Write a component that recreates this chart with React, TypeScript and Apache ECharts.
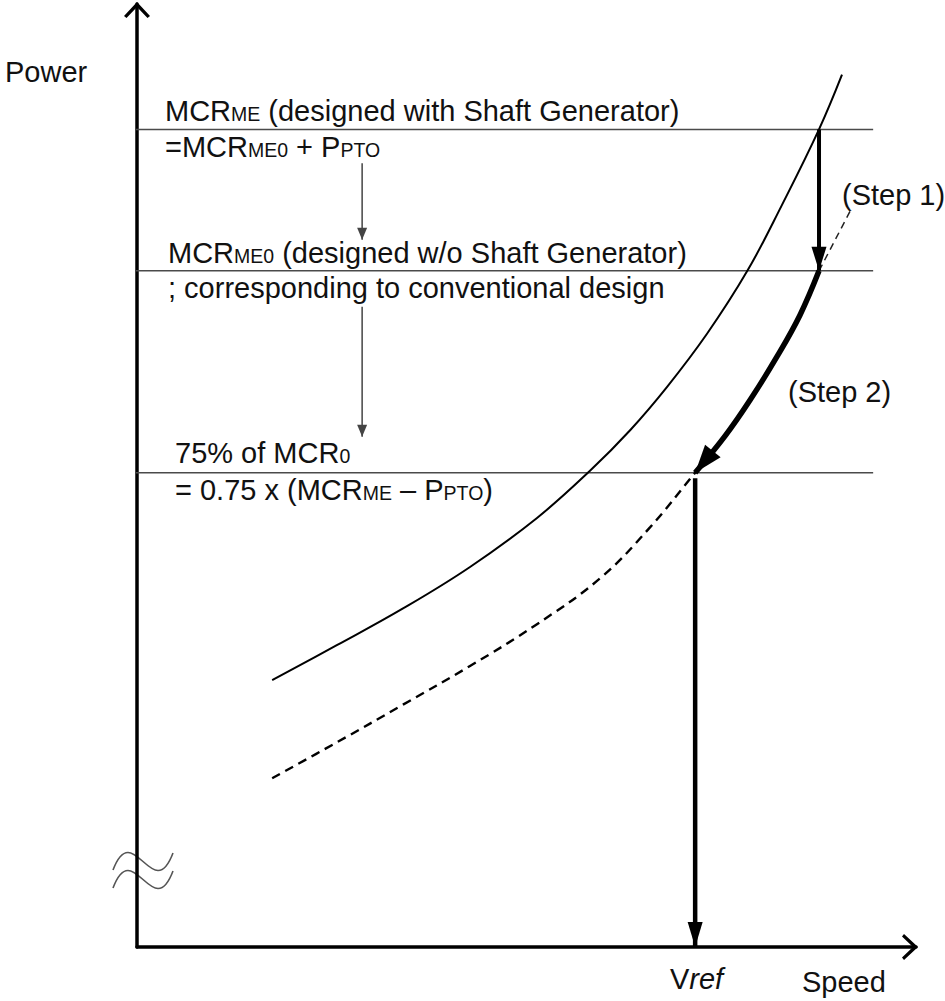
import React, { useEffect, useRef } from 'react';
import * as echarts from 'echarts';

// ---- axis ranges (schematic units) ----
const SPEED_MAX = 20;
const POWER_MAX = 100;

// ---- solid curve: power demand (with shaft generator) ----
const solidSpeed = [3.47, 5.13, 6.83, 8.55, 10.27, 11.63, 12.66, 13.61, 14.63, 15.67, 16.56, 17.51, 18.1];
const solidPower = [28.3, 32.0, 35.9, 40.3, 45.5, 50.5, 54.8, 59.4, 65.0, 71.7, 78.7, 86.7, 92.5];

// ---- dashed curve: power demand (conventional) ----
const dashedSpeed = [3.47, 5.13, 6.83, 8.55, 10.22, 11.89, 13.17, 14.33, 15.1, 15.74, 16.43, 17.02, 17.51];
const dashedPower = [17.9, 21.7, 25.7, 29.8, 34.1, 39.1, 44.5, 50.3, 54.2, 58.0, 62.6, 67.0, 71.7];

// ---- horizontal power levels ----
const levelPower = [86.7, 71.7, 50.3]; // MCR_ME, MCR_ME0, 75% of MCR0
const levelSpeedSpan = [-0.33, 18.9];

// ---- leader from (Step 1) label to curve ----
const leaderSpeed = [17.51, 18.33];
const leaderPower = [71.7, 78.2];

// ---- Step 1 arrow ----
const step1Speed = [17.51, 17.51];
const step1Power = [86.7, 71.7];

// ---- Vref arrow ----
const vrefSpeed = [14.33, 14.33];
const vrefPower = [49.7, 0];

// ---- thin flow arrows between text blocks ----
const flowSpeed = [5.78, 5.78];
const flow1Power = [83.1, 75.0];
const flow2Power = [67.9, 54.1];

const zip = (xs: number[], ys: number[]) => xs.map((x, i) => [x, ys[i]]);

const FONT = '"Liberation Sans", Arial, Helvetica, sans-serif';
const TXT = '#111';
const CHEVRON = 'path://M0,14 L13,0 L26,14 L23.5,16 L13,5 L2.5,16 Z';

const rich = {
  m: { fontSize: 29, fontFamily: FONT, fill: TXT, color: TXT, verticalAlign: 'bottom' },
  s: { fontSize: 19.5, fontFamily: FONT, fill: TXT, color: TXT, verticalAlign: 'bottom', padding: [0, 0, 1.5, 0] },
  i: { fontSize: 29, fontFamily: FONT, fill: TXT, color: TXT, fontStyle: 'italic', verticalAlign: 'bottom' },
};

const label = (x: number, y: number, text: string) => ({
  type: 'text',
  x,
  y,
  silent: true,
  z: 20,
  style: {
    text,
    rich,
    fill: TXT,
    fontSize: 29,
    fontFamily: FONT,
    align: 'left',
    verticalAlign: 'top',
  },
});

type ArrowDef = { name: string; pts: number[][]; color: string; width: number; head: [number, number]; smooth?: number; z: number };

export default function App() {
  const ref = useRef<HTMLDivElement>(null);

  useEffect(() => {
    if (!ref.current) return;
    const chart = echarts.init(ref.current, undefined, { renderer: 'svg' });

    const solid = zip(solidSpeed, solidPower);
    const dashed = zip(dashedSpeed, dashedPower);
    const step2 = dashed.filter((p) => p[0] >= vrefSpeed[0]).reverse();

    const arrows: ArrowDef[] = [
      { name: 'step2', pts: step2, color: '#000', width: 5.5, head: [20, 28], smooth: 0.4, z: 5 },
      { name: 'step1', pts: zip(step1Speed, step1Power), color: '#000', width: 4, head: [15, 24], z: 5 },
      { name: 'vref', pts: zip(vrefSpeed, vrefPower), color: '#000', width: 4.5, head: [15, 25], z: 5 },
      { name: 'flow1', pts: zip(flowSpeed, flow1Power), color: '#444', width: 1.5, head: [10, 12], z: 4 },
      { name: 'flow2', pts: zip(flowSpeed, flow2Power), color: '#444', width: 1.5, head: [10, 12], z: 4 },
    ];

    const axisCommon = {
      type: 'value',
      axisLine: {
        show: true,
        onZero: false,
        lineStyle: { color: '#000', width: 3.5 },
        symbol: ['none', CHEVRON],
        symbolSize: [26, 16],
        symbolOffset: [0, -6],
      },
      axisTick: { show: false },
      axisLabel: { show: false },
      splitLine: { show: false },
    };

    const levelSeries = levelPower.map((p, i) => ({
      type: 'line',
      name: 'level' + i,
      clip: false,
      silent: true,
      showSymbol: false,
      symbol: 'none',
      lineStyle: { color: '#4a4a4a', width: 1.5 },
      data: levelSpeedSpan.map((s) => [s, p]),
      z: 2,
    }));

    const arrowSeries = (withHeads: boolean) =>
      arrows.map((a) => {
        let data: any[] = a.pts.map((p) => p.slice());
        if (withHeads) {
          const n = a.pts.length;
          const p0 = chart.convertToPixel({ gridIndex: 0 }, a.pts[n - 2]) as number[];
          const p1 = chart.convertToPixel({ gridIndex: 0 }, a.pts[n - 1]) as number[];
          const dx = p1[0] - p0[0];
          const dy = p1[1] - p0[1];
          const len = Math.hypot(dx, dy) || 1;
          const ux = dx / len;
          const uy = dy / len;
          const rot = (Math.atan2(-dx, -dy) * 180) / Math.PI;
          const half = a.head[1] / 2;
          data[n - 1] = {
            value: a.pts[n - 1],
            symbol: 'triangle',
            symbolSize: a.head,
            symbolRotate: rot,
            symbolOffset: [-ux * half, -uy * half],
            itemStyle: { color: a.color, borderWidth: 0 },
          };
        }
        return {
          type: 'line',
          name: a.name,
          smooth: a.smooth || false,
          silent: true,
          showSymbol: true,
          showAllSymbol: true,
          symbol: 'none',
          itemStyle: { color: a.color },
          lineStyle: { color: a.color, width: a.width },
          data,
          z: a.z,
        };
      });

    const buildOption = (withHeads: boolean): any => ({
      animation: false,
      backgroundColor: '#fff',
      grid: { left: 137, right: 29, top: 4, bottom: 54, containLabel: false },
      xAxis: { ...axisCommon, min: 0, max: SPEED_MAX },
      yAxis: { ...axisCommon, min: 0, max: POWER_MAX },
      series: [
        ...levelSeries,
        {
          type: 'line',
          name: 'solid',
          smooth: 0.4,
          silent: true,
          showSymbol: false,
          symbol: 'none',
          lineStyle: { color: '#000', width: 2 },
          data: solid,
          z: 3,
        },
        {
          type: 'line',
          name: 'dashed',
          smooth: 0.4,
          silent: true,
          showSymbol: false,
          symbol: 'none',
          lineStyle: { color: '#000', width: 2.4, type: [9, 6] },
          data: dashed,
          z: 3,
        },
        {
          type: 'line',
          name: 'leader',
          silent: true,
          showSymbol: false,
          symbol: 'none',
          lineStyle: { color: '#222', width: 1.5, type: [7, 5] },
          data: zip(leaderSpeed, leaderPower),
          z: 3,
        },
        ...arrowSeries(withHeads),
      ],
      graphic: [
        // axis break symbol
        {
          type: 'bezierCurve',
          silent: true,
          z: -1,
          shape: { x1: 113, y1: 870, cpx1: 133, cpy1: 817, cpx2: 153, cpy2: 906, x2: 173, y2: 853 },
          style: { stroke: '#555', lineWidth: 1.6, fill: 'none' },
        },
        {
          type: 'bezierCurve',
          silent: true,
          z: -1,
          shape: { x1: 113, y1: 888, cpx1: 133, cpy1: 835, cpx2: 153, cpy2: 924, x2: 173, y2: 871 },
          style: { stroke: '#555', lineWidth: 1.6, fill: 'none' },
        },
        label(5, 57.5, '{m|Power}'),
        label(165, 96.5, '{m|MCR}{s|ME}{m| (designed with Shaft Generator)}'),
        label(165, 132.5, '{m|=MCR}{s|ME0}{m| + P}{s|PTO}'),
        label(168, 238.5, '{m|MCR}{s|ME0}{m| (designed w/o Shaft Generator)}'),
        label(168, 273.5, '{m|; corresponding to conventional design}'),
        label(175, 438.5, '{m|75% of MCR}{s|0}'),
        label(175, 475.5, '{m|= 0.75 x (MCR}{s|ME}{m| – P}{s|PTO}{m|)}'),
        label(842, 180.5, '{m|(Step 1)}'),
        label(788, 377.5, '{m|(Step 2)}'),
        label(670, 964.5, '{m|V}{i|ref}'),
        label(802, 967.5, '{m|Speed}'),
      ],
    });

    chart.setOption(buildOption(false));
    chart.setOption(buildOption(true), { notMerge: true });
    return () => chart.dispose();
  }, []);

  return (
    <div
      ref={ref}
      style={{ position: 'absolute', left: 0, top: 0, width: 945, height: 1001, background: '#fff' }}
    />
  );
}
